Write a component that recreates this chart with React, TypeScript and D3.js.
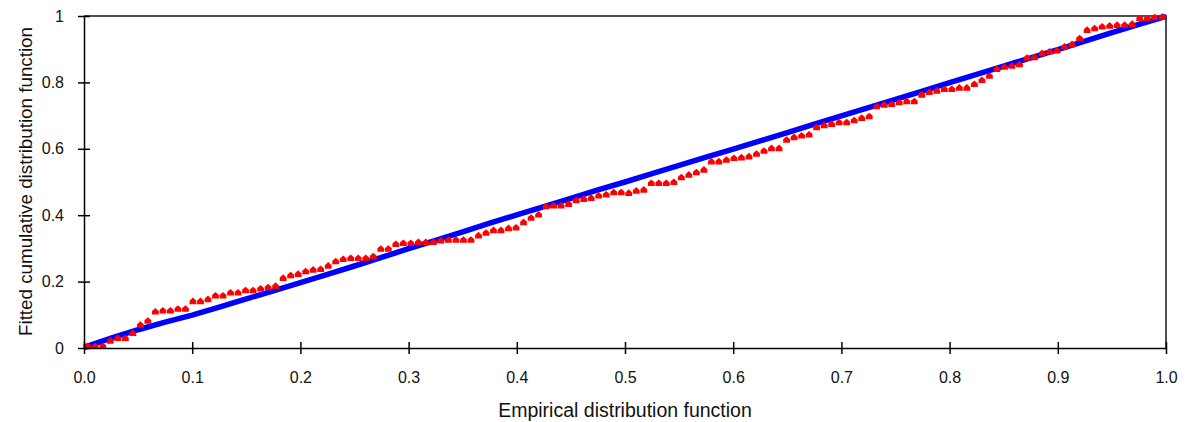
import React, { useRef, useEffect } from "react";
import * as d3 from "d3";

// fitted CDF (second distribution) at each empirical point, red markers
const redValues = [
  0.006, 0.006, 0.006, 0.022, 0.03, 0.03, 0.045, 0.07, 0.082, 0.11,
  0.113, 0.113, 0.118, 0.118, 0.141, 0.141, 0.147, 0.158, 0.158, 0.167,
  0.167, 0.174, 0.174, 0.179, 0.183, 0.187, 0.211, 0.219, 0.223,
  0.231, 0.236, 0.238, 0.248, 0.261, 0.268, 0.271, 0.271, 0.271, 0.276,
  0.299, 0.299, 0.313, 0.316, 0.316, 0.319, 0.319, 0.319, 0.324, 0.326,
  0.326, 0.326, 0.326, 0.339, 0.347, 0.355, 0.355, 0.361, 0.363,
  0.379, 0.392, 0.402, 0.427, 0.429, 0.429, 0.434, 0.445, 0.449, 0.452,
  0.459, 0.462, 0.469, 0.469, 0.467, 0.474, 0.477, 0.497, 0.497, 0.497,
  0.5, 0.514, 0.522, 0.529, 0.537, 0.562, 0.562, 0.567,
  0.572, 0.574, 0.577, 0.585, 0.594, 0.602, 0.602, 0.627, 0.635, 0.64,
  0.643, 0.665, 0.671, 0.675, 0.68, 0.68, 0.686, 0.693, 0.698, 0.728,
  0.733, 0.735, 0.74, 0.743, 0.743, 0.763, 0.771, 0.775, 0.78,
  0.78, 0.784, 0.784, 0.795, 0.807, 0.82, 0.84, 0.847, 0.85, 0.855,
  0.874, 0.876, 0.888, 0.893, 0.896, 0.908, 0.915, 0.933, 0.958, 0.963,
  0.968, 0.971, 0.973, 0.973, 0.976, 0.993, 0.993, 0.996, 0.998,
];

// fitted CDF (first distribution), blue band
const blueX = [
  0, 0.025, 0.05, 0.075, 0.1, 0.125, 0.15, 0.175, 0.2, 0.225, 0.25, 0.275,
  0.3, 0.325, 0.35, 0.375, 0.4, 0.425, 0.45, 0.475, 0.5, 0.525, 0.55, 0.575,
  0.6, 0.625, 0.65, 0.675, 0.7, 0.725, 0.75, 0.775, 0.8, 0.825, 0.85, 0.875,
  0.9, 0.925, 0.95, 0.975, 1,
];
const blueY = [
  0.002, 0.03, 0.055, 0.078, 0.099, 0.123, 0.148, 0.172, 0.197, 0.222, 0.247,
  0.273, 0.299, 0.324, 0.35, 0.376, 0.401, 0.426, 0.451, 0.476, 0.5, 0.525,
  0.55, 0.575, 0.599, 0.624, 0.649, 0.674, 0.699, 0.724, 0.749, 0.774, 0.799,
  0.824, 0.849, 0.874, 0.899, 0.924, 0.95, 0.975, 0.999,
];

const xTicks = [0, 0.1, 0.2, 0.3, 0.4, 0.5, 0.6, 0.7, 0.8, 0.9, 1];
const yTicks = [0, 0.2, 0.4, 0.6, 0.8, 1];

const App = () => {
  const svgRef = useRef<SVGSVGElement>(null);

  useEffect(() => {
    document.body.style.margin = "0";

    const width = 1187;
    const height = 422;
    const margin = { top: 16, right: 21, bottom: 74, left: 84 };

    const svg = d3.select(svgRef.current);
    svg.selectAll("*").remove();
    svg.attr("width", width).attr("height", height);

    const x = d3.scaleLinear().domain([0, 1]).range([margin.left, width - margin.right]);
    const y = d3.scaleLinear().domain([0, 1]).range([height - margin.bottom, margin.top]);

    const font = "'Liberation Sans', Arial, sans-serif";

    // frame (top and right)
    svg.append("path")
      .attr("d", `M${x(0)},${y(1)}H${x(1)}V${y(0)}`)
      .attr("fill", "none")
      .attr("stroke", "#505050")
      .attr("stroke-width", 2);

    // blue series
    const blue = blueX.map((v, i) => [v, blueY[i]] as [number, number]);
    svg.append("path")
      .datum(blue)
      .attr("d", d3.line().x((d) => x(d[0])).y((d) => y(d[1])))
      .attr("fill", "none")
      .attr("stroke", "#0000ff")
      .attr("stroke-width", 5.5);

    // red markers at empirical positions (i - 0.5) / n
    const n = redValues.length;
    const marker = "M0,-3.6L3.4,-0.5V3H-3.4V-0.5Z";
    svg.append("g")
      .selectAll("path")
      .data(redValues)
      .enter()
      .append("path")
      .attr("d", marker)
      .attr("transform", (d, i) => `translate(${x((i + 0.5) / n)},${y(d)})`)
      .attr("fill", "#ff0000");

    // x axis
    const xAxis = svg.append("g")
      .attr("transform", `translate(0,${y(0)})`)
      .call(d3.axisBottom(x).tickValues(xTicks).tickSize(6).tickSizeOuter(0).tickFormat(d3.format(".1f")));
    xAxis.selectAll(".tick line").attr("y1", -6).attr("stroke", "#000").attr("stroke-width", 1.5);
    xAxis.select(".domain").attr("stroke", "#000").attr("stroke-width", 1.5);
    xAxis.selectAll(".tick text")
      .attr("y", 29)
      .attr("dy", "0.35em")
      .attr("font-family", font)
      .attr("font-size", 16)
      .attr("fill", "#111");

    // y axis
    const yAxis = svg.append("g")
      .attr("transform", `translate(${x(0)},0)`)
      .call(d3.axisLeft(y).tickValues(yTicks).tickSize(6).tickSizeOuter(0).tickFormat((d) => d3.format("")(+d)));
    yAxis.selectAll(".tick line").attr("x1", 6).attr("stroke", "#000").attr("stroke-width", 1.5);
    yAxis.select(".domain").attr("stroke", "#000").attr("stroke-width", 1.5);
    yAxis.selectAll(".tick text")
      .attr("x", -20)
      .attr("font-family", font)
      .attr("font-size", 16)
      .attr("fill", "#111");

    // axis titles
    svg.append("text")
      .attr("x", (x(0) + x(1)) / 2)
      .attr("y", 410)
      .attr("dy", "0.35em")
      .attr("text-anchor", "middle")
      .attr("font-family", font)
      .attr("font-size", 19.5)
      .attr("fill", "#111")
      .text("Empirical distribution function");

    svg.append("text")
      .attr("transform", `translate(25,${(y(0) + y(1)) / 2 - 0.5}) rotate(-90)`)
      .attr("dy", "0.35em")
      .attr("text-anchor", "middle")
      .attr("font-family", font)
      .attr("font-size", 18.8)
      .attr("fill", "#111")
      .text("Fitted cumulative distribution function");
  }, []);

  return <svg ref={svgRef}></svg>;
};

export default App;
